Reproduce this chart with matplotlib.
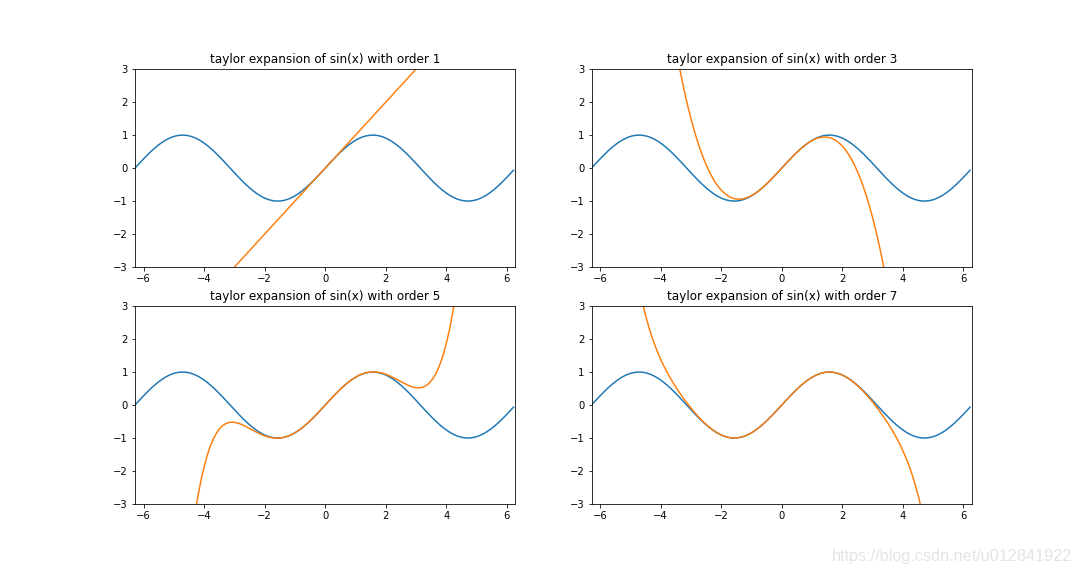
import numpy as np
import matplotlib.pyplot as plt
from math import factorial

# orders of the taylor expansion shown in the four panels
orders = [1, 3, 5, 7]
x = np.arange(-2 * np.pi, 2 * np.pi, 0.1)
y_lim = (-3, 3)


def taylor_sin(x, order):
    total = np.zeros_like(x)
    for k in range(0, order + 1):
        if k % 2 == 1:
            sign = (-1) ** ((k - 1) // 2)
            total += sign * x ** k / factorial(k)
    return total


fig = plt.figure(figsize=(15, 8), dpi=72)
fig.subplots_adjust(left=0.125, right=0.9, top=0.88, bottom=0.125, wspace=0.2, hspace=0.197)

for i, order in enumerate(orders):
    ax = fig.add_subplot(2, 2, i + 1)
    ax.plot(x, np.sin(x))
    ax.plot(x, taylor_sin(x, order))
    ax.set_xlim(-2 * np.pi, 2 * np.pi)
    ax.set_ylim(y_lim)
    ax.set_title('taylor expansion of sin(x) with order %d' % order)

# csdn watermark in the lower right corner
fig.text(0.993, 0.02, 'https://blog.csdn.net/u012841922', ha='right', va='bottom',
         fontsize=16.2, color='#e4e4e4', family='Liberation Sans')

fig.savefig('out.png', dpi=72)
